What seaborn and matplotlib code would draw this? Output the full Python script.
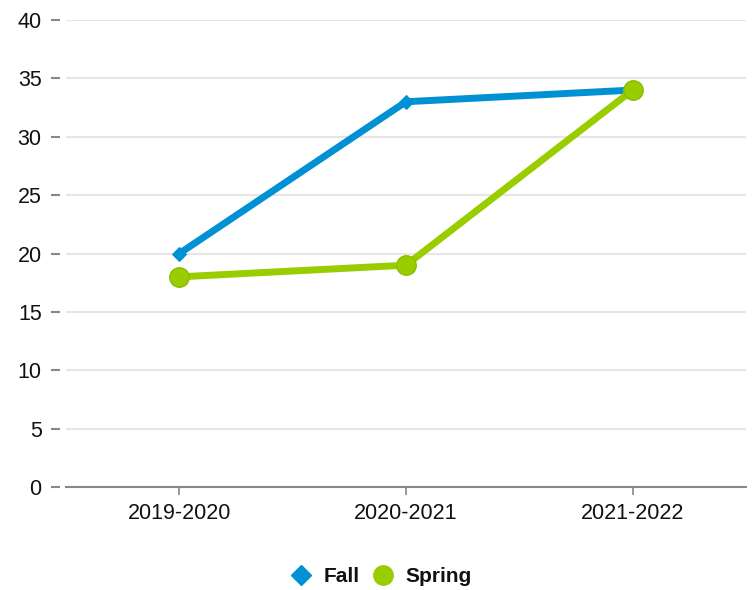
import matplotlib
matplotlib.use('Agg')
import matplotlib.pyplot as plt
from matplotlib.lines import Line2D
import pandas as pd
import seaborn as sns

sns.set_style('white')
plt.rcParams['font.family'] = ['Liberation Sans', 'DejaVu Sans']

# ---------------------------------------------------------------
years = ['2019-2020', '2020-2021', '2021-2022']
fall = [20, 33, 34]
spring = [18, 19, 34]
y_ticks = [0, 5, 10, 15, 20, 25, 30, 35, 40]
# ---------------------------------------------------------------

blue = '#0091d5'
green = '#9acd00'

df = pd.DataFrame({'year': years * 2,
                   'value': fall + spring,
                   'term': ['Fall'] * 3 + ['Spring'] * 3})

fig = plt.figure(figsize=(7.56, 5.9), dpi=100)
ax = fig.add_axes([66 / 756, 1 - 487 / 590, 680 / 756, 467 / 590])

sns.lineplot(x='year', y='value', data=df[df.term == 'Fall'], ax=ax,
             color=blue, linewidth=5, marker='D', markersize=7.5,
             markeredgecolor=blue, zorder=3)
sns.lineplot(x='year', y='value', data=df[df.term == 'Spring'], ax=ax,
             color=green, linewidth=5, marker='o', markersize=14,
             markeredgecolor='#8cbc00', markeredgewidth=1, zorder=4)

ax.set_xlim(-0.5, 2.5)
ax.set_ylim(0, 40)
ax.set_yticks(y_ticks)
ax.set_xlabel('')
ax.set_ylabel('')
ax.yaxis.grid(True, color='#e6e6e6', linewidth=1.5)
ax.set_axisbelow(True)

for s in ['top', 'right']:
    ax.spines[s].set_visible(False)
ax.spines['left'].set_position(('outward', 4))
ax.spines['left'].set_visible(False)
ax.spines['bottom'].set_color('#888888')
ax.spines['bottom'].set_linewidth(1.5)

ax.tick_params(axis='y', length=6.5, width=1.5, color='#888888', pad=7,
               labelsize=15.5, labelcolor='#111111', left=True)
ax.tick_params(axis='x', length=5.8, width=1.2, color='#888888', pad=6,
               labelsize=15.5, labelcolor='#111111', bottom=True)

handles = [Line2D([], [], linestyle='none', marker='D', markersize=10,
                  color=blue, label='Fall'),
           Line2D([], [], linestyle='none', marker='o', markersize=14,
                  color=green, label='Spring')]
leg = fig.legend(handles=handles, loc='center', bbox_to_anchor=(381 / 756, 1 - 577 / 590),
                 ncol=2, frameon=False, handlelength=1.0, handletextpad=0.6,
                 columnspacing=0.6, prop={'size': 15, 'weight': 'bold'})
for t in leg.get_texts():
    t.set_color('#111111')

fig.savefig('out.png', dpi=100)
